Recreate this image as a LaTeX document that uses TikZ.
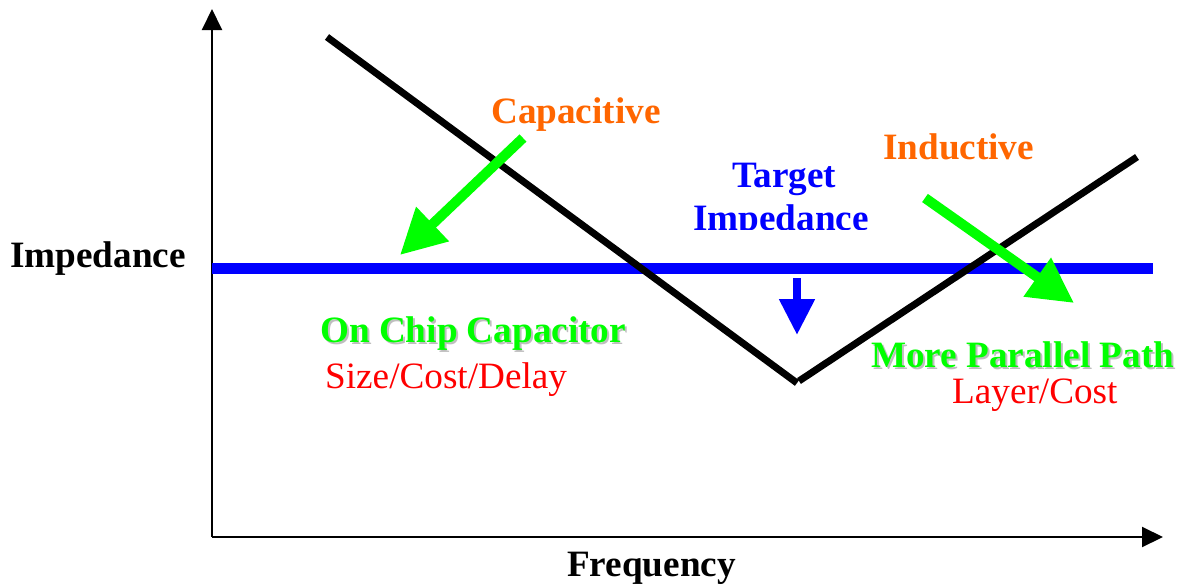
\documentclass[tikz,border=0pt]{standalone}
\usepackage{fontspec}
\setmainfont{Liberation Serif}
\usetikzlibrary{arrows.meta}
\definecolor{warmorange}{HTML}{FF6600}
\definecolor{brightgreen}{HTML}{00FF00}
\definecolor{shadowgray}{HTML}{BEBEBE}
\tikzset{
  lbl/.style={anchor=base west, inner sep=0pt, font=\fontsize{37.2}{42}\selectfont\bfseries},
  sublbl/.style={anchor=base west, inner sep=0pt, font=\fontsize{37.2}{42}\selectfont, text=red},
  axis/.style={line width=2pt, -{Triangle[length=21pt,width=20pt]}},
  curve/.style={line width=7pt, black},
  target/.style={line width=11pt, blue},
  greenarrow/.style={line width=10pt, brightgreen, -{Triangle[length=45pt,width=45pt]}},
  bluearrow/.style={line width=8pt, blue, -{Triangle[length=36pt,width=34pt]}},
}
\begin{document}
\begin{tikzpicture}[x=1pt,y=-1pt]
\useasboundingbox (0,0) rectangle (1178,584);

% axes
\coordinate (origin) at (212,537);
\coordinate (ytip) at (212,9);
\coordinate (xtip) at (1163,537);
\draw[axis] (origin) -- (ytip);
\draw[axis] (origin) -- (xtip);

% target impedance level
\coordinate (tl) at (212,268);
\coordinate (tr) at (1153,268);
\draw[target] (tl) -- (tr);

% impedance profile: capacitive and inductive branches
\coordinate (capstart) at (327,37);
\coordinate (capend) at (797,383);
\coordinate (indstart) at (799,381);
\coordinate (indend) at (1137,157);
\draw[curve] (capstart) -- (capend);
\draw[curve] (indstart) -- (indend);

% arrows
\coordinate (ca1) at (523,138);
\coordinate (ca2) at (400,255);
\draw[greenarrow] (ca1) -- (ca2);
\coordinate (ia1) at (925,198);
\coordinate (ia2) at (1074,303);
\draw[greenarrow] (ia1) -- (ia2);
\coordinate (ba1) at (797,278);
\coordinate (ba2) at (797,335);
\draw[bluearrow] (ba1) -- (ba2);

% axis labels
\node[lbl] (ylabel) at (10,267) {Impedance};
\node[lbl] (xlabel) at (567,576) {Frequency};

% region labels
\node[lbl, text=warmorange] (capl) at (491,123) {Capacitive};
\node[lbl, text=warmorange] (indl) at (883,159) {Inductive};
\node[lbl, text=blue] (tgt) at (732,187) {Target};
\begin{scope}
  \clip (600,190) rectangle (900,229.5);
  \node[lbl, text=blue] (tgt2) at (693,230) {Impedance};
\end{scope}

% remedies, with drop shadow
\node[lbl, text=shadowgray] (ocs) at (322,344) {On Chip Capacitor};
\node[lbl, text=brightgreen] (oc) at (320,342) {On Chip Capacitor};
\node[sublbl] (ocsub) at (325,388) {Size/Cost/Delay};
\node[lbl, text=shadowgray] (mps) at (873,369) {More Parallel Path};
\node[lbl, text=brightgreen] (mp) at (871,367) {More Parallel Path};
\node[sublbl] (mpsub) at (952,403) {Layer/Cost};
\end{tikzpicture}
\end{document}
